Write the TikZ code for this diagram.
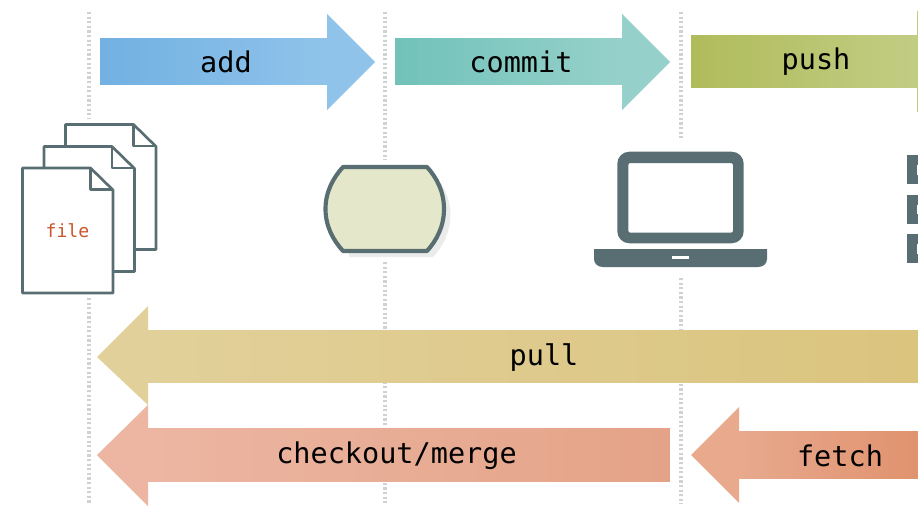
\documentclass[tikz,border=0pt]{standalone}
\usepackage{fontspec}
\setmonofont{DejaVu Sans Mono}
\definecolor{slate}{HTML}{586E73}
\definecolor{dotc}{HTML}{CDD3D3}
\definecolor{oneL}{HTML}{72B1E2}
\definecolor{oneR}{HTML}{8FC3EA}
\definecolor{twoL}{HTML}{72C2BA}
\definecolor{twoR}{HTML}{95D1CA}
\definecolor{thrL}{HTML}{B0BC5C}
\definecolor{thrR}{HTML}{C2CD83}
\definecolor{pulL}{HTML}{E2D09A}
\definecolor{pulR}{HTML}{DAC47E}
\definecolor{cheL}{HTML}{ECB6A2}
\definecolor{cheR}{HTML}{E4A388}
\definecolor{fetL}{HTML}{E8A98D}
\definecolor{fetR}{HTML}{E0936F}
\definecolor{dbfill}{HTML}{E4E7C9}
\definecolor{dbshadow}{HTML}{EAEBEB}
\definecolor{filetxt}{HTML}{C8562A}
\tikzset{x=0.75pt,y=-0.75pt,
 lbl/.style={font=\ttfamily\fontsize{21.4}{21.4}\selectfont,text=black,inner sep=0pt,anchor=base},
 guide/.style={draw=dotc,line width=3.4pt,dash pattern=on 1.65pt off 1.8pt},
 sheet/.style={draw=slate,line width=2pt,line join=round,fill=white},
 crease/.style={draw=slate,line width=2pt,line join=round}
}
% colour left, colour right, x left, x right, y top, y bottom
\newcommand{\bodybands}[6]{%
  \foreach \k in {0,...,29}{
   \pgfmathsetmacro{\pct}{100-\k/29*100}
   \pgfmathsetmacro{\xs}{#3+(#4-#3)/30*\k}
   \fill[color=#1!\pct!#2] (\xs,#5) rectangle (#4,#6);
  }%
}
\newcommand{\sheetat}[2]{%
 \draw[sheet] (#1,#2) -- ++(68,0) -- ++(22.5,22) -- ++(0,103) -- ++(-90.5,0) -- cycle;
 \draw[crease] (#1+68,#2) -- ++(0,21.5) -- ++(22.5,0);
}
\begin{document}
\begin{tikzpicture}
\useasboundingbox (0,0) rectangle (918,517);
% guides
\coordinate (g1a) at (89,12); \coordinate (g1b) at (89,119);
\coordinate (g1c) at (89,298); \coordinate (g1d) at (89,504);
\coordinate (g2a) at (385,12); \coordinate (g2b) at (385,160);
\coordinate (g2c) at (385,262); \coordinate (g2d) at (385,504);
\coordinate (g3a) at (681,12); \coordinate (g3b) at (681,139);
\coordinate (g3c) at (681,278); \coordinate (g3d) at (681,504);
\foreach \a/\b in {g1a/g1b,g1c/g1d,g2a/g2b,g2c/g2d,g3a/g3b,g3c/g3d} \draw[guide] (\a) -- (\b);
% arrows
\bodybands{oneL}{oneR}{100}{328}{38}{85}
\fill[oneR] (327,14) -- (375,62) -- (327,110) -- cycle;
\bodybands{twoL}{twoR}{395}{623}{38}{85}
\fill[twoR] (622,14) -- (670,62) -- (622,110) -- cycle;
\bodybands{thrL}{thrR}{691}{918}{35}{88}
\fill[thrR] (917,11) rectangle (918,112);
\bodybands{pulL}{pulR}{147}{918}{330}{383}
\fill[pulL] (97,357) -- (148,306) -- (148,405) -- cycle;
\bodybands{cheL}{cheR}{147}{670}{428}{482}
\fill[cheL] (97,455) -- (148,405) -- (148,506) -- cycle;
\bodybands{fetL}{fetR}{738}{918}{431}{479}
\fill[fetL] (691,455) -- (739,407) -- (739,503) -- cycle;
% labels
\node[lbl] (add) at (226,72.5) {add};
\node[lbl] (commit) at (521,72.5) {commit};
\node[lbl] (push) at (816,69.5) {push};
\node[lbl] (pull) at (544,365) {pull};
\node[lbl] (checkout) at (396.5,463) {checkout/merge};
\node[lbl] (fetch) at (840,466) {fetch};
% files
\sheetat{65.5}{124.5}
\sheetat{44}{146.5}
\sheetat{22.5}{168}
\node[font=\ttfamily\fontsize{13.6}{13.6}\selectfont,text=filetxt,inner sep=0pt,anchor=base] (file) at (67.5,237) {file};
% repository
\fill[dbshadow] (349,173) -- (433,173) .. controls (444,185) and (450.5,199) .. (450.5,215) .. controls (450.5,231) and (444,245) .. (433,257) -- (349,257) -- cycle;
\draw[draw=slate,fill=dbfill,line width=3.1pt,line join=round] (343,167) -- (427,167) .. controls (437,178) and (444,192) .. (444,209) .. controls (444,226) and (437,240) .. (427,251) -- (343,251) .. controls (333,240) and (325.5,226) .. (325.5,209) .. controls (325.5,192) and (333,178) .. (343,167) -- cycle;
% laptop
\fill[slate,even odd rule] [rounded corners=9pt] (617.3,151.7) rectangle (743.7,243.3) [rounded corners=1.5pt] (628.3,163) rectangle (733,232.7);
\fill[slate] (594,249) -- (767,249) -- (767,259) .. controls (767,264) and (763,267) .. (758,267) -- (603,267) .. controls (598,267) and (594,264) .. (594,259) -- cycle;
\fill[white] (672,255.5) rectangle (689,258.5);
% servers
\foreach \y in {155,194.5,234}{
 \fill[slate] (907,\y) rectangle (918,\y+29.3);
 \fill[white] (916.8,\y+10) rectangle (918,\y+19.5);
}
\end{tikzpicture}
\end{document}
